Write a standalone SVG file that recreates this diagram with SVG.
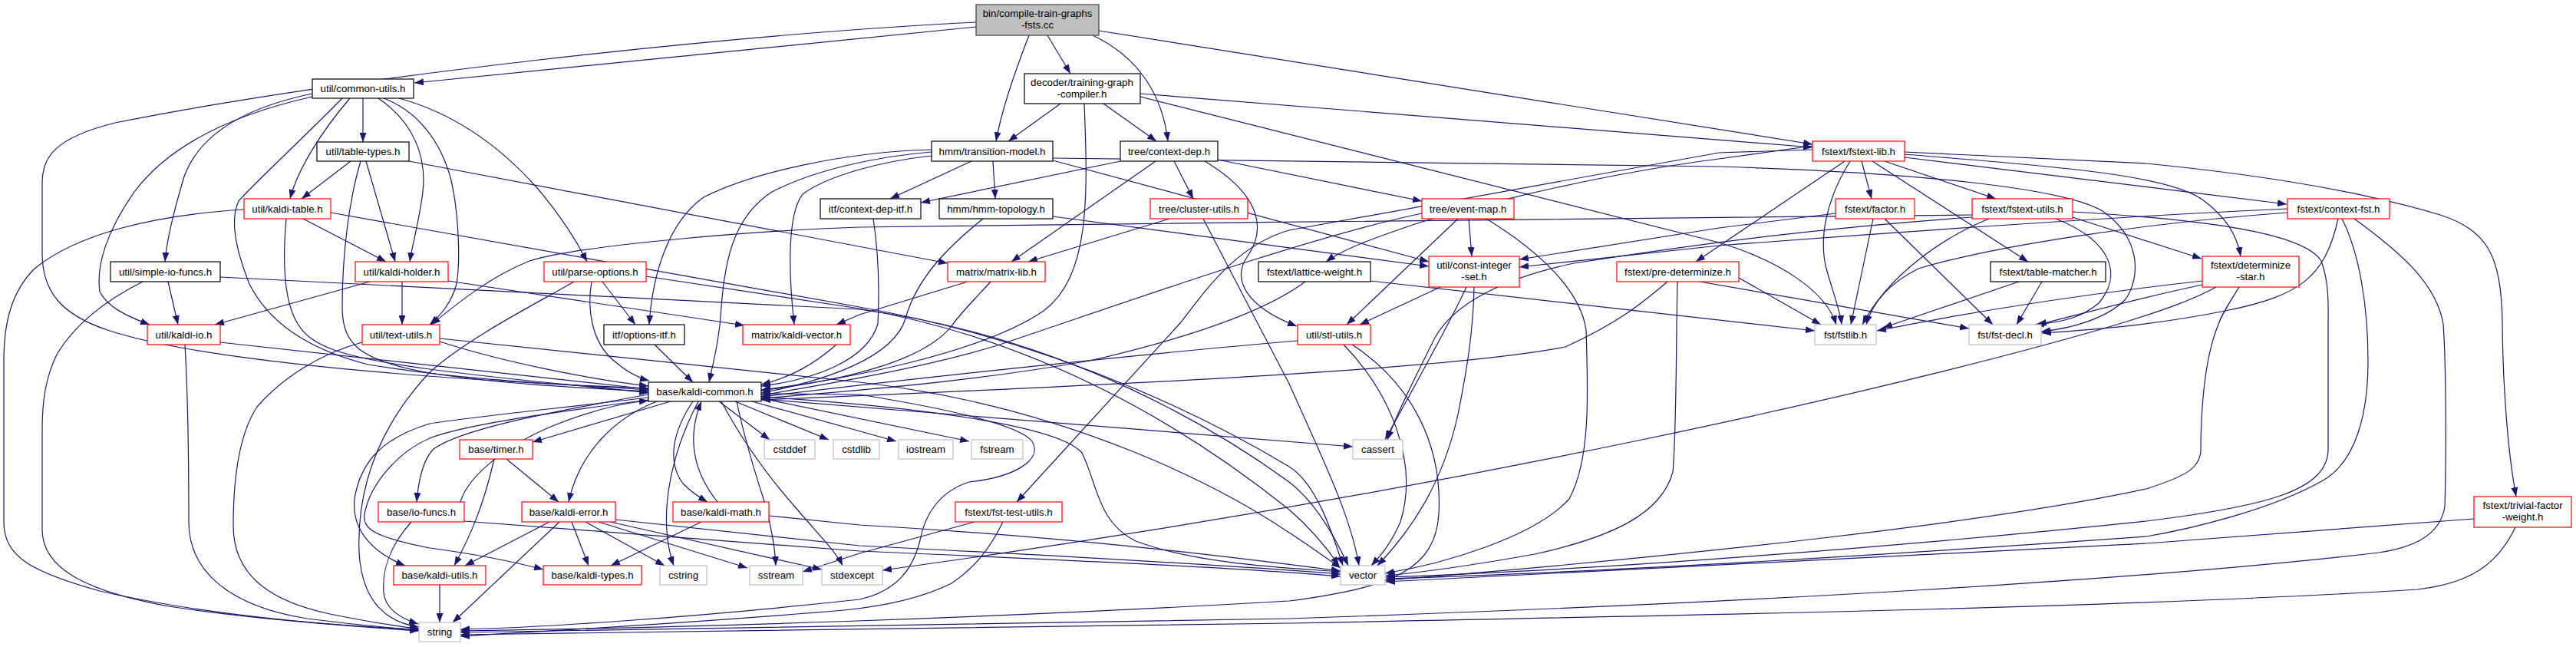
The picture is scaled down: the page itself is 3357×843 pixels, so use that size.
<svg xmlns="http://www.w3.org/2000/svg" width="3357" height="843" viewBox="0 0 3357 843">
<defs>
<marker id="ah" viewBox="0 0 12 9" refX="12" refY="4.5" markerWidth="12" markerHeight="9" orient="auto" markerUnits="userSpaceOnUse"><path d="M0,0 L12,4.5 L0,9 z" fill="#191970"/></marker>
<style>
.n rect{fill:#fff;stroke:#000;stroke-width:1.2}
.r rect{stroke:#ff0000}
.g rect{stroke:#bfbfbf}
.root rect{fill:#bfbfbf;stroke:#404040}
text{font-family:"Liberation Sans",Arial,Helvetica,sans-serif;font-size:13.3px;text-anchor:middle;fill:#000}
#edges path{fill:none;stroke:#191970;stroke-width:1.2;marker-end:url(#ah)}
</style>
</defs>
<rect width="3357" height="843" fill="#fff"/>
<g id="edges">
<path d="M1272,29 C950,45 450,100 150,160 C70,180 55,205 55,240 L55,330 C55,380 80,410 140,430 C260,470 560,495 845,506"/>
<path d="M1272,35 L540,108"/>
<path d="M1341,46 C1320,100 1305,145 1298,184"/>
<path d="M1365,46 L1395,96"/>
<path d="M1424,46 C1485,75 1515,125 1522,184"/>
<path d="M1432,40 L2362,188"/>
<path d="M1382,135 L1314,184"/>
<path d="M1438,135 L1507,184"/>
<path d="M1413,135 C1418,260 1420,360 1360,405 C1280,460 1100,495 992,508"/>
<path d="M1486,122 L2362,192"/>
<path d="M1486,126 L2240,316 C2320,340 2380,380 2393,423"/>
<path d="M407,122 C320,140 260,175 240,230 C225,280 217,315 215,341"/>
<path d="M407,126 C300,150 220,190 175,250 C140,300 125,345 130,380 C140,400 165,412 195,423"/>
<path d="M446,128 C390,185 330,240 311,262 C300,285 305,320 325,370 C350,420 400,455 480,475 C600,495 720,500 845,508"/>
<path d="M456,128 C420,170 388,220 378,259"/>
<path d="M473,128 L473,185"/>
<path d="M493,128 C540,160 556,205 551,250 C546,290 537,320 534,341"/>
<path d="M500,128 C545,145 575,185 588,235 C598,280 600,340 595,370 C588,395 575,410 560,423"/>
<path d="M520,128 C600,150 660,200 700,245 C730,280 752,315 765,341"/>
<path d="M457,210 L393,259"/>
<path d="M477,210 L515,341"/>
<path d="M470,210 C455,260 446,330 446,400 C446,450 470,470 560,486 C650,500 750,505 845,510"/>
<path d="M533,210 L1235,343"/>
<path d="M318,273 C200,280 100,305 45,350 C15,380 5,420 5,470 L5,680 C5,725 40,745 130,770 C260,800 420,815 546,820"/>
<path d="M395,285 L503,341"/>
<path d="M373,285 C369,330 368,390 388,422 C405,450 440,465 560,481 C680,497 770,503 845,512"/>
<path d="M431,277 L1120,400 C1400,450 1600,560 1680,608 C1715,630 1735,690 1750,737"/>
<path d="M482,367 L280,423"/>
<path d="M524,367 L524,423"/>
<path d="M584,366 L970,424"/>
<path d="M219,367 L232,423"/>
<path d="M186,367 C140,390 100,420 75,460 C60,490 55,520 55,560 L55,690 C55,740 110,770 220,790 C340,808 460,816 546,822"/>
<path d="M287,361 L1120,403 C1400,440 1600,570 1680,628 C1715,655 1740,700 1757,737"/>
<path d="M748,367 C700,395 610,440 560,485 C490,560 465,640 468,720 C472,790 510,812 546,817"/>
<path d="M771,367 C765,400 770,445 800,470 C815,483 830,492 846,496"/>
<path d="M785,367 L828,423"/>
<path d="M842,360 L1120,402 C1400,450 1600,600 1680,664 C1710,690 1730,715 1745,737"/>
<path d="M241,449 C244,500 246,600 246,680 C246,745 300,790 400,806 C470,815 520,819 546,821"/>
<path d="M287,446 L845,507"/>
<path d="M472,446 C420,460 370,490 335,530 C312,565 304,620 304,685 C304,745 345,782 430,800 C490,812 525,817 546,819"/>
<path d="M573,445 C650,470 760,493 845,503"/>
<path d="M573,441 L1120,498 C1400,530 1600,640 1680,694 C1705,710 1725,725 1747,740"/>
<path d="M1214,198 C1140,204 1060,222 1006,250 C960,280 945,330 940,400 C938,440 930,470 924,498"/>
<path d="M1214,195 C1100,198 980,225 917,257 C870,290 850,360 846,423"/>
<path d="M1214,203 C1150,210 1080,228 1046,253 C1025,280 1028,360 1035,423"/>
<path d="M1266,210 L1160,259"/>
<path d="M1294,210 L1297,259"/>
<path d="M1372,206 L2240,217 C2500,225 2690,245 2740,275 C2790,310 2790,360 2770,390 C2745,415 2700,428 2660,432"/>
<path d="M1372,209 L1862,341"/>
<path d="M1281,285 C1240,318 1195,360 1180,415 C1165,465 1080,495 992,512"/>
<path d="M1372,282 L1862,347"/>
<path d="M1460,210 L1200,264"/>
<path d="M1506,210 L1318,341"/>
<path d="M1530,210 L1555,259"/>
<path d="M1570,210 C1645,255 1650,300 1625,335 C1605,365 1625,400 1690,425"/>
<path d="M1587,208 L1853,262"/>
<path d="M1524,285 L1340,341"/>
<path d="M1568,285 L1680,500 C1720,590 1760,670 1771,737"/>
<path d="M1853,278 C1700,310 1450,400 1300,450 C1200,480 1080,500 992,515"/>
<path d="M1900,285 L1755,423"/>
<path d="M1914,285 L1918,334"/>
<path d="M1937,285 C2010,330 2060,380 2067,430 C2070,520 2072,600 2045,650 C2000,700 1880,735 1805,747"/>
<path d="M1877,374 L1772,423"/>
<path d="M1911,374 C1890,420 1845,500 1805,573"/>
<path d="M1921,374 C1920,430 1912,480 1900,540 C1880,630 1840,690 1795,737"/>
<path d="M1691,444 C1500,460 1200,492 992,517"/>
<path d="M1751,449 C1810,510 1850,600 1825,680 C1812,710 1798,725 1787,737"/>
<path d="M1762,449 C1840,500 1880,580 1875,670 C1870,740 1820,765 1680,783 C1300,805 900,818 600,822"/>
<path d="M1701,367 C1650,405 1550,440 1420,470 C1250,500 1100,510 992,519"/>
<path d="M1786,366 L2365,431"/>
<path d="M2173,367 C2140,395 2110,420 2040,452 C1900,480 1500,500 992,521"/>
<path d="M2186,367 C2184,450 2185,560 2180,615 C2165,670 2100,700 2000,722 C1900,740 1850,746 1806,750"/>
<path d="M2266,362 L2373,423"/>
<path d="M2215,367 L2566,428"/>
<path d="M2362,190 L2240,207 C2100,225 1950,260 1850,290 C1790,310 1750,325 1728,341"/>
<path d="M2362,195 L2240,199 L1680,300 C1610,320 1570,380 1538,421 L1325,654"/>
<path d="M2404,210 L2210,341"/>
<path d="M2411,210 C2380,260 2370,310 2380,350 C2390,385 2398,405 2400,423"/>
<path d="M2426,210 L2439,259"/>
<path d="M2440,210 L2643,341"/>
<path d="M2456,210 L2601,259"/>
<path d="M2482,205 L2980,266"/>
<path d="M2482,201 C2650,215 2820,225 2870,260 C2900,282 2915,305 2920,334"/>
<path d="M2482,198 L2797,213 C2950,228 3080,250 3180,280 C3240,300 3260,330 3261,422 C3262,520 3270,600 3279,647"/>
<path d="M2392,278 L2240,297 L1980,338"/>
<path d="M2441,285 L2412,423"/>
<path d="M2456,285 L2597,423"/>
<path d="M2570,280 C2200,287 1600,288 1120,296 C1000,300 760,318 690,340 C640,360 600,392 562,423"/>
<path d="M2592,285 C2530,310 2460,360 2427,423"/>
<path d="M2679,285 C2755,315 2765,360 2735,395 C2715,412 2690,420 2652,423"/>
<path d="M2701,283 L2869,337"/>
<path d="M2701,276 C2850,285 3000,300 3025,340 C3036,370 3034,400 3034,430 L3034,585 C3034,640 2950,660 2797,679 C2500,710 2100,742 1806,752"/>
<path d="M2570,283 C2400,295 2250,312 2051,343 C1960,362 1895,395 1870,440 C1845,490 1820,540 1808,573"/>
<path d="M2981,272 C2800,280 2500,300 2240,320 L1980,348"/>
<path d="M2981,277 C2800,290 2600,320 2500,350 C2460,370 2440,395 2432,423"/>
<path d="M3047,285 C3030,360 3000,385 2900,405 C2800,425 2720,430 2661,434"/>
<path d="M3052,285 C3075,330 3086,400 3086,471 C3086,540 3070,600 3029,625 C2960,665 2850,690 2797,699 C2500,720 2100,745 1806,754"/>
<path d="M3068,285 C3130,330 3175,370 3184,422 C3188,480 3188,600 3186,660 C3180,700 3140,714 3100,720 C2800,755 2300,785 1680,806 C1200,815 800,820 600,824"/>
<path d="M2870,366 C2700,385 2550,410 2446,431"/>
<path d="M2870,371 C2780,390 2710,410 2655,423"/>
<path d="M2888,374 C2850,395 2800,410 2765,421 C2500,500 1900,640 1150,743"/>
<path d="M2918,374 C2905,395 2895,410 2890,425 C2872,470 2868,540 2868,588 C2866,610 2850,620 2797,637 C2600,680 2200,725 1806,756"/>
<path d="M2631,367 L2454,427"/>
<path d="M2661,367 L2628,423"/>
<path d="M3224,676 L2797,708 C2400,730 2000,750 1806,758"/>
<path d="M3278,687 C3255,735 3220,760 3150,768 C2800,790 2300,800 1680,812 C1200,820 800,824 600,827"/>
<path d="M1270,680 L1120,721 L1046,745"/>
<path d="M1307,680 C1290,715 1270,740 1240,760 C1200,780 1150,790 1100,795 C900,812 750,820 600,829"/>
<path d="M874,523 L694,576"/>
<path d="M856,523 C800,545 755,590 741,654"/>
<path d="M903,523 C878,560 868,600 890,630 C905,645 915,650 922,654"/>
<path d="M935,654 C900,610 897,565 914,523"/>
<path d="M910,523 C870,600 858,680 878,737"/>
<path d="M937,523 L1003,573"/>
<path d="M958,523 L1080,573"/>
<path d="M980,523 L1168,575"/>
<path d="M992,519 L1263,575"/>
<path d="M960,523 C970,570 982,610 995,650 C1005,685 1010,715 1011,737"/>
<path d="M940,523 C965,570 1000,620 1040,665 C1070,700 1090,720 1098,737"/>
<path d="M992,517 C1200,530 1380,555 1410,590 C1430,630 1430,680 1480,705 C1560,735 1680,740 1747,745"/>
<path d="M992,513 L1120,514 C1250,535 1330,555 1345,575 C1360,600 1320,622 1263,628 C1225,640 1205,670 1199,704 C1190,740 1170,770 1120,781 C900,805 700,818 600,820"/>
<path d="M992,520 C1300,545 1550,565 1763,582"/>
<path d="M845,514 C700,540 600,560 565,585 C550,600 545,630 543,654"/>
<path d="M845,518 C700,535 600,545 560,552 C500,570 470,600 462,650 C458,690 485,720 528,737"/>
<path d="M845,521 C700,540 600,555 560,571 C520,588 482,630 475,670 C472,690 490,700 560,714 C620,722 670,732 708,742"/>
<path d="M600,654 C610,620 660,580 720,555 C770,535 810,525 845,522"/>
<path d="M536,680 C505,715 498,745 500,772 C502,792 520,805 545,813"/>
<path d="M605,679 L1120,718 C1400,730 1620,740 1747,751"/>
<path d="M644,598 C630,660 612,700 592,737"/>
<path d="M660,598 L728,654"/>
<path d="M716,680 L606,737"/>
<path d="M729,680 L590,811"/>
<path d="M745,680 L767,737"/>
<path d="M763,680 L866,737"/>
<path d="M780,680 L974,740"/>
<path d="M795,680 L1071,742"/>
<path d="M802,677 L1120,711 C1400,725 1620,738 1747,748"/>
<path d="M914,680 L796,737"/>
<path d="M1002,672 L1120,684 C1400,700 1600,725 1747,744"/>
<path d="M573,762 L573,811"/>
<path d="M853,449 L903,498"/>
<path d="M1138,285 C1145,330 1146,380 1144,422 C1130,470 1060,495 992,503"/>
<path d="M1261,367 L1120,410 L1090,423"/>
<path d="M1291,367 C1270,390 1250,410 1240,425 C1200,475 1080,498 992,509"/>
<path d="M1090,449 C1060,475 1030,492 992,501"/>
</g>
<g id="n_bin" class="n root"><rect x="1272" y="6" width="160" height="40"/><text x="1352" y="22">bin/compile-train-graphs</text><text x="1352" y="37">-fsts.cc</text></g>
<g id="n_cu" class="n"><rect x="407" y="103" width="132" height="25"/><text x="473" y="120">util/common-utils.h</text></g>
<g id="n_dec" class="n"><rect x="1335" y="96" width="151" height="39"/><text x="1410" y="112">decoder/training-graph</text><text x="1410" y="127">-compiler.h</text></g>
<g id="n_tt" class="n"><rect x="413" y="185" width="120" height="25"/><text x="473" y="202">util/table-types.h</text></g>
<g id="n_tm" class="n"><rect x="1214" y="184" width="158" height="26"/><text x="1293" y="202">hmm/transition-model.h</text></g>
<g id="n_cd" class="n"><rect x="1460" y="184" width="127" height="26"/><text x="1523.5" y="202">tree/context-dep.h</text></g>
<g id="n_fl" class="n r"><rect x="2362" y="184" width="120" height="26"/><text x="2422" y="202">fstext/fstext-lib.h</text></g>
<g id="n_kt" class="n r"><rect x="318" y="259" width="113" height="26"/><text x="374.5" y="277">util/kaldi-table.h</text></g>
<g id="n_cdi" class="n"><rect x="1069" y="259" width="131" height="26"/><text x="1134.5" y="277">itf/context-dep-itf.h</text></g>
<g id="n_ht" class="n"><rect x="1224" y="259" width="148" height="26"/><text x="1298" y="277">hmm/hmm-topology.h</text></g>
<g id="n_clu" class="n r"><rect x="1499" y="259" width="127" height="26"/><text x="1562.5" y="277">tree/cluster-utils.h</text></g>
<g id="n_em" class="n r"><rect x="1853" y="259" width="120" height="26"/><text x="1913" y="277">tree/event-map.h</text></g>
<g id="n_fac" class="n r"><rect x="2392" y="259" width="103" height="26"/><text x="2443.5" y="277">fstext/factor.h</text></g>
<g id="n_fu" class="n r"><rect x="2570" y="259" width="131" height="26"/><text x="2635.5" y="277">fstext/fstext-utils.h</text></g>
<g id="n_cf" class="n r"><rect x="2981" y="259" width="133" height="26"/><text x="3047.5" y="277">fstext/context-fst.h</text></g>
<g id="n_sio" class="n"><rect x="144" y="341" width="143" height="26"/><text x="215.5" y="359">util/simple-io-funcs.h</text></g>
<g id="n_kh" class="n r"><rect x="463" y="341" width="121" height="26"/><text x="523.5" y="359">util/kaldi-holder.h</text></g>
<g id="n_po" class="n r"><rect x="709" y="341" width="133" height="26"/><text x="775.5" y="359">util/parse-options.h</text></g>
<g id="n_ml" class="n r"><rect x="1235" y="341" width="127" height="26"/><text x="1298.5" y="359">matrix/matrix-lib.h</text></g>
<g id="n_lw" class="n"><rect x="1640" y="341" width="146" height="26"/><text x="1713" y="359">fstext/lattice-weight.h</text></g>
<g id="n_cis" class="n r"><rect x="1862" y="334" width="118" height="40"/><text x="1921" y="350">util/const-integer</text><text x="1921" y="365">-set.h</text></g>
<g id="n_pd" class="n r"><rect x="2107" y="341" width="159" height="26"/><text x="2186.5" y="359">fstext/pre-determinize.h</text></g>
<g id="n_tmat" class="n"><rect x="2594" y="341" width="150" height="26"/><text x="2669" y="359">fstext/table-matcher.h</text></g>
<g id="n_ds" class="n r"><rect x="2870" y="334" width="126" height="40"/><text x="2933" y="350">fstext/determinize</text><text x="2933" y="365">-star.h</text></g>
<g id="n_kio" class="n r"><rect x="192" y="423" width="95" height="26"/><text x="239.5" y="441">util/kaldi-io.h</text></g>
<g id="n_tu" class="n r"><rect x="472" y="423" width="101" height="26"/><text x="522.5" y="441">util/text-utils.h</text></g>
<g id="n_oi" class="n"><rect x="787" y="423" width="105" height="26"/><text x="839.5" y="441">itf/options-itf.h</text></g>
<g id="n_kv" class="n r"><rect x="968" y="423" width="140" height="26"/><text x="1038" y="441">matrix/kaldi-vector.h</text></g>
<g id="n_su" class="n r"><rect x="1691" y="423" width="95" height="26"/><text x="1738.5" y="441">util/stl-utils.h</text></g>
<g id="n_fstlib" class="n g"><rect x="2365" y="423" width="80" height="26"/><text x="2405" y="441">fst/fstlib.h</text></g>
<g id="n_fstdecl" class="n g"><rect x="2566" y="423" width="94" height="26"/><text x="2613" y="441">fst/fst-decl.h</text></g>
<g id="n_kc" class="n"><rect x="845" y="498" width="147" height="25"/><text x="918.5" y="515">base/kaldi-common.h</text></g>
<g id="n_timer" class="n r"><rect x="599" y="573" width="95" height="25"/><text x="646.5" y="590">base/timer.h</text></g>
<g id="n_cstddef" class="n g"><rect x="996" y="573" width="66" height="25"/><text x="1029" y="590">cstddef</text></g>
<g id="n_cstdlib" class="n g"><rect x="1086" y="573" width="60" height="25"/><text x="1116" y="590">cstdlib</text></g>
<g id="n_iostream" class="n g"><rect x="1171" y="573" width="71" height="25"/><text x="1206.5" y="590">iostream</text></g>
<g id="n_fstream" class="n g"><rect x="1266" y="573" width="67" height="25"/><text x="1299.5" y="590">fstream</text></g>
<g id="n_cassert" class="n g"><rect x="1763" y="573" width="65" height="25"/><text x="1795.5" y="590">cassert</text></g>
<g id="n_if" class="n r"><rect x="493" y="654" width="112" height="26"/><text x="549" y="672">base/io-funcs.h</text></g>
<g id="n_ke" class="n r"><rect x="680" y="654" width="122" height="26"/><text x="741" y="672">base/kaldi-error.h</text></g>
<g id="n_km" class="n r"><rect x="877" y="654" width="125" height="26"/><text x="939.5" y="672">base/kaldi-math.h</text></g>
<g id="n_ftu" class="n r"><rect x="1245" y="654" width="139" height="26"/><text x="1314.5" y="672">fstext/fst-test-utils.h</text></g>
<g id="n_tfw" class="n r"><rect x="3224" y="647" width="127" height="40"/><text x="3287.5" y="663">fstext/trivial-factor</text><text x="3287.5" y="678">-weight.h</text></g>
<g id="n_ku" class="n r"><rect x="513" y="737" width="120" height="25"/><text x="573" y="754">base/kaldi-utils.h</text></g>
<g id="n_kty" class="n r"><rect x="708" y="737" width="128" height="25"/><text x="772" y="754">base/kaldi-types.h</text></g>
<g id="n_cstring" class="n g"><rect x="860" y="737" width="61" height="25"/><text x="890.5" y="754">cstring</text></g>
<g id="n_sstream" class="n g"><rect x="977" y="737" width="69" height="25"/><text x="1011.5" y="754">sstream</text></g>
<g id="n_stdexcept" class="n g"><rect x="1071" y="737" width="79" height="25"/><text x="1110.5" y="754">stdexcept</text></g>
<g id="n_vector" class="n g"><rect x="1747" y="737" width="58" height="25"/><text x="1776" y="754">vector</text></g>
<g id="n_string" class="n g"><rect x="546" y="811" width="54" height="25"/><text x="573" y="828">string</text></g>
</svg>
